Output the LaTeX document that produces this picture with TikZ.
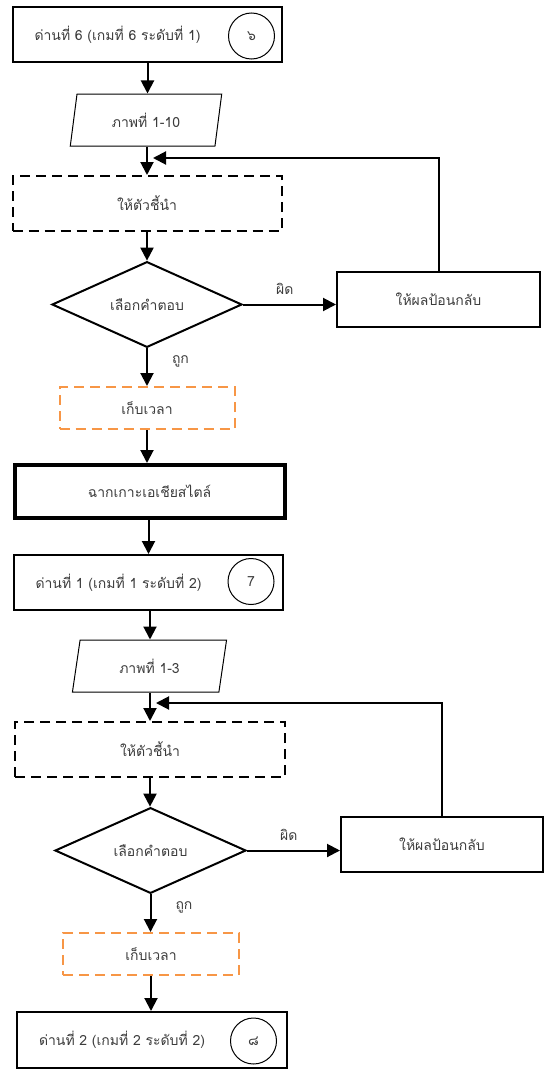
\documentclass[tikz,border=0pt]{standalone}
\usepackage{fontspec}
\setmainfont[Script=Thai]{Loma}
\usetikzlibrary{shapes.geometric,arrows.meta}
\definecolor{txt}{RGB}{60,60,60}
\definecolor{tmorange}{RGB}{247,150,70}
\tikzset{
  every node/.style={font=\fontsize{14}{16}\selectfont, text=txt, inner sep=0pt},
  stepbox/.style={draw=black, line width=2pt, rectangle, minimum width=#1, minimum height=55pt},
  hintbox/.style={draw=black, line width=2pt, dash pattern=on 10pt off 6pt, rectangle, minimum width=#1, minimum height=55pt},
  timebox/.style={draw=tmorange, line width=2pt, dash pattern=on 10pt off 6pt, rectangle, minimum width=#1, minimum height=42pt},
  scenebox/.style={draw=black, line width=4pt, rectangle, minimum width=270pt, minimum height=53pt},
  imgbox/.style={draw=black, line width=1pt, trapezium, trapezium left angle=77, trapezium right angle=103,
    trapezium stretches=true, minimum width=#1, minimum height=52pt},
  choice/.style={draw=black, line width=2pt, diamond, minimum width=190pt, minimum height=83pt},
  numcirc/.style={draw=black, line width=1pt, circle, minimum size=46pt},
  flow/.style={line width=2pt, -{Triangle[length=13pt,width=13pt]}},
  lbl/.style={font=\fontsize{14}{16}\selectfont}
}
\begin{document}
\begin{tikzpicture}[x=1pt,y=-1pt]
\useasboundingbox (0,0) rectangle (551,1073);

% ---- stage 6 ----
\node[stepbox=269pt] (b1) at (147.5,35) {\hspace*{-60pt}ด่านที่ 6 (เกมที่ 6 ระดับที่ 1)};
\node[numcirc] (c1) at (251.5,36) {๖};
\node[imgbox=152pt] (p1) at (146,120) {ภาพที่ 1-10};
\node[hintbox=269pt] (h1) at (147,203.5) {ให้ตัวชี้นำ};
\node[choice] (q1) at (147,304.5) {เลือกคำตอบ};
\node[stepbox=203pt] (f1) at (438.5,299) {ให้ผลป้อนกลับ};
\node[timebox=175pt] (t1) at (147,408) {เก็บเวลา};
\node[scenebox] (s) at (149.5,491.5) {ฉากเกาะเอเชียสไตล์};

\coordinate (m1) at (153,158);
\draw[flow] (b1.south) -- (b1.south |- p1.north);
\draw[flow] (p1.south -| h1.north) -- (h1.north);
\draw[flow] (h1.south) -- (q1.north);
\draw[flow] (q1.east) -- (q1.east -| f1.west) node[pos=0.45, above=9pt, lbl] {ผิด};
\draw[flow] (f1.north) |- (m1);
\draw[flow] (q1.south) -- (q1.south |- t1.north) node[pos=0.35, right=24pt, lbl] {ถูก};
\draw[flow] (t1.south) -- (t1.south |- s.north);

% ---- stage 1 level 2 ----
\node[stepbox=269pt] (b2) at (148.5,582.5) {\hspace*{-60pt}ด่านที่ 1 (เกมที่ 1 ระดับที่ 2)};
\node[numcirc] (c2) at (251,581.5) {7};
\node[imgbox=155pt] (p2) at (149.5,666) {ภาพที่ 1-3};
\node[hintbox=270pt] (h2) at (150,749.5) {ให้ตัวชี้นำ};
\node[choice, minimum width=191pt] (q2) at (150.5,850.5) {เลือกคำตอบ};
\node[stepbox=202pt] (f2) at (442,844.5) {ให้ผลป้อนกลับ};
\node[timebox=176pt] (t2) at (151,954) {เก็บเวลา};
\node[stepbox=270pt, minimum height=56pt] (b3) at (152,1040) {\hspace*{-60pt}ด่านที่ 2 (เกมที่ 2 ระดับที่ 2)};
\node[numcirc] (c3) at (253.5,1041) {๘};

\coordinate (m2) at (156,703);
\draw[flow] (s.south -| b2.north) -- (b2.north);
\draw[flow] (b2.south -| h2.north) -- (p2.north -| h2.north);
\draw[flow] (p2.south -| h2.north) -- (h2.north);
\draw[flow] (h2.south) -- (h2.south |- q2.north);
\draw[flow] (q2.east) -- (q2.east -| f2.west) node[pos=0.45, above=9pt, lbl] {ผิด};
\draw[flow] (f2.north) |- (m2);
\draw[flow] (q2.south) -- (q2.south |- t2.north) node[pos=0.35, right=24pt, lbl] {ถูก};
\draw[flow] (t2.south) -- (t2.south |- b3.north);
\end{tikzpicture}
\end{document}
